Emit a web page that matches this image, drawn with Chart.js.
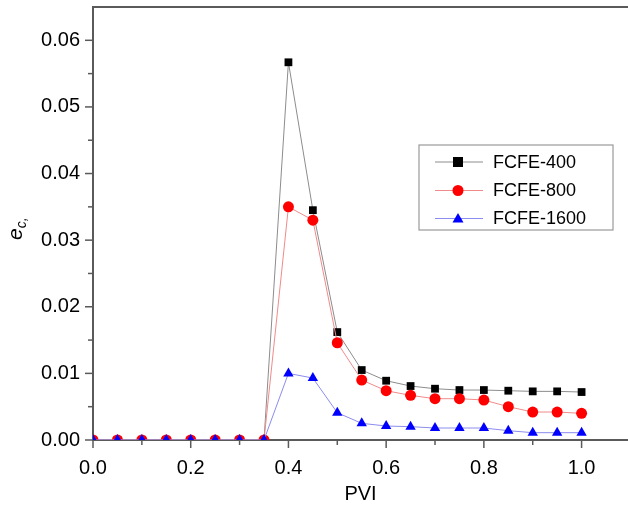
<!DOCTYPE html>
<html>
<head>
<meta charset="utf-8">
<script src="https://cdn.jsdelivr.net/npm/chart.js@4/dist/chart.umd.min.js"></script>
<style>
  html, body { margin: 0; padding: 0; background: #fff; }
  #wrap { width: 628px; height: 508px; position: relative; }
</style>
</head>
<body>
<div id="wrap"><canvas id="myChart"></canvas></div>
<script>
const pvi = [0, 0.05, 0.1, 0.15, 0.2, 0.25, 0.3, 0.35, 0.4, 0.45, 0.5, 0.55, 0.6, 0.65, 0.7, 0.75, 0.8, 0.85, 0.9, 0.95, 1.0];
const fcfe400 = [0, 0, 0, 0, 0, 0, 0, 0, 0.0567, 0.0345, 0.0162, 0.0105, 0.0089, 0.0081, 0.0077, 0.0075, 0.0075, 0.0074, 0.0073, 0.0073, 0.0072];
const fcfe800 = [0, 0, 0, 0, 0, 0, 0, 0, 0.0350, 0.0330, 0.0146, 0.0090, 0.0074, 0.0067, 0.0062, 0.0062, 0.0060, 0.0050, 0.0042, 0.0042, 0.0040];
const fcfe1600 = [0, 0, 0, 0, 0, 0, 0, 0, 0.0100, 0.0093, 0.0041, 0.0025, 0.0021, 0.0020, 0.0018, 0.0018, 0.0018, 0.0014, 0.0011, 0.0011, 0.0011];
const seriesNames = ["FCFE-400", "FCFE-800", "FCFE-1600"];
// tick positions (major every 0.2 / 0.01, minor halfway)
const xTicks = [0, 0.1, 0.2, 0.3, 0.4, 0.5, 0.6, 0.7, 0.8, 0.9, 1.0];
const yTicks = [0, 0.005, 0.01, 0.015, 0.02, 0.025, 0.03, 0.035, 0.04, 0.045, 0.05, 0.055, 0.06];

const font = "'Liberation Sans', Arial, Helvetica, sans-serif";
const axisColor = "#5a5a5a";

function pts(ys) {
    return pvi.map((x, i) => ({ x: x, y: ys[i] }));
}

function isMult(v, step) {
    const q = v / step;
    return Math.abs(q - Math.round(q)) < 1e-6;
}

function marker(ctx, style, x, y, r, color) {
    ctx.fillStyle = color;
    ctx.beginPath();
    if (style === "rect") {
        ctx.rect(x - r, y - r, 2 * r, 2 * r);
    } else if (style === "circle") {
        ctx.arc(x, y, r, 0, Math.PI * 2);
    } else {
        ctx.moveTo(x, y - r * 1.1);
        ctx.lineTo(x + r * 1.1, y + r * 0.8);
        ctx.lineTo(x - r * 1.1, y + r * 0.8);
        ctx.closePath();
    }
    ctx.fill();
}

const decorPlugin = {
    id: "decor",
    afterDraw(chart) {
        const ctx = chart.ctx;
        const area = chart.chartArea;
        const xs = chart.scales.x;
        const ys = chart.scales.y;
        ctx.save();
        ctx.strokeStyle = axisColor;
        ctx.lineWidth = 2;
        // top frame line
        ctx.beginPath();
        ctx.moveTo(area.left - 1, area.top);
        ctx.lineTo(area.right, area.top);
        ctx.stroke();
        // tick marks
        ctx.lineWidth = 1.5;
        xs.ticks.forEach(t => {
            const px = xs.getPixelForValue(t.value);
            const len = isMult(t.value, 0.2) ? 8 : 5;
            ctx.beginPath();
            ctx.moveTo(px, area.bottom);
            ctx.lineTo(px, area.bottom + len);
            ctx.stroke();
        });
        ys.ticks.forEach(t => {
            const py = ys.getPixelForValue(t.value);
            const len = isMult(t.value, 0.01) ? 8 : 5;
            ctx.beginPath();
            ctx.moveTo(area.left, py);
            ctx.lineTo(area.left - len, py);
            ctx.stroke();
        });
        // y axis title: e subscript c,
        ctx.translate(22, 234);
        ctx.rotate(-Math.PI / 2);
        ctx.fillStyle = "#000";
        ctx.textBaseline = "alphabetic";
        ctx.textAlign = "left";
        ctx.font = "italic 21px " + font;
        ctx.fillText("e", -6, 0);
        const ew = ctx.measureText("e").width;
        ctx.font = "italic 14px " + font;
        ctx.fillText("c,", -6 + ew, 4);
        ctx.restore();

        // legend
        ctx.save();
        const bx = 419, by = 145, bw = 194, bh = 85;
        ctx.fillStyle = "#fff";
        ctx.fillRect(bx, by, bw, bh);
        ctx.strokeStyle = "#9a9a9a";
        ctx.lineWidth = 1.2;
        ctx.strokeRect(bx, by, bw, bh);
        const rowsY = [162, 190.5, 218.5];
        chart.data.datasets.forEach((ds, i) => {
            const y = rowsY[i];
            ctx.strokeStyle = ds.borderColor;
            ctx.lineWidth = 1;
            ctx.beginPath();
            ctx.moveTo(435, y);
            ctx.lineTo(483, y);
            ctx.stroke();
            marker(ctx, ds.pointStyle, 458, y, ds.pointStyle === "circle" ? 5.5 : 5, ds.pointBackgroundColor);
            ctx.fillStyle = "#000";
            ctx.font = "18px " + font;
            ctx.textBaseline = "middle";
            ctx.textAlign = "left";
            ctx.fillText(ds.label, 493, y + 1);
        });
        ctx.restore();
    }
};

const ctx = document.getElementById("myChart").getContext("2d");
const myChart = new Chart(ctx, {
    type: "line",
    data: {
        datasets: [{
            label: seriesNames[0],
            data: pts(fcfe400),
            borderColor: "#8c8c8c",
            borderWidth: 1,
            pointStyle: "rect",
            pointRadius: 5.5,
            pointBackgroundColor: "#000000",
            pointBorderWidth: 0,
            order: 2,
        }, {
            label: seriesNames[1],
            data: pts(fcfe800),
            borderColor: "#f08a8a",
            borderWidth: 1,
            pointStyle: "circle",
            pointRadius: 5.5,
            pointBackgroundColor: "#ff0000",
            pointBorderWidth: 0,
            order: 1,
        }, {
            label: seriesNames[2],
            data: pts(fcfe1600),
            borderColor: "#8c8cee",
            borderWidth: 1,
            pointStyle: "triangle",
            pointRadius: 6,
            pointBackgroundColor: "#0000ff",
            pointBorderWidth: 0,
            order: 0,
        }],
    },
    options: {
        responsive: true,
        maintainAspectRatio: false,
        animation: false,
        layout: { autoPadding: false, padding: { top: 7, right: 0, left: 0, bottom: 0 } },
        plugins: {
            legend: { display: false },
            tooltip: { enabled: false },
        },
        elements: { line: { tension: 0 } },
        scales: {
            x: {
                type: "linear",
                min: 0,
                max: 1.095,
                afterBuildTicks: axis => { axis.ticks = xTicks.map(v => ({ value: v })); },
                afterFit: scale => {
                    scale.height = 68;
                    scale.paddingLeft = 0;
                    scale.paddingRight = 0;
                },
                grid: { display: false, drawTicks: false },
                border: { display: true, color: axisColor, width: 2 },
                ticks: {
                    padding: 16,
                    maxRotation: 0,
                    autoSkip: false,
                    color: "#000",
                    font: { family: font, size: 20 },
                    callback: v => isMult(v, 0.2) ? v.toFixed(1) : "",
                },
                title: {
                    display: true,
                    text: "PVI",
                    color: "#000",
                    font: { family: font, size: 20 },
                    padding: { top: 0, bottom: 2 },
                },
            },
            y: {
                min: 0,
                max: 0.065,
                afterBuildTicks: axis => { axis.ticks = yTicks.map(v => ({ value: v })); },
                afterFit: scale => {
                    scale.width = 93;
                    scale.paddingTop = 0;
                    scale.paddingBottom = 0;
                },
                grid: { display: false, drawTicks: false },
                border: { display: true, color: axisColor, width: 2 },
                ticks: {
                    padding: 13,
                    autoSkip: false,
                    color: "#000",
                    font: { family: font, size: 20 },
                    callback: v => isMult(v, 0.01) ? v.toFixed(2) : "",
                },
            },
        },
    },
    plugins: [decorPlugin],
});
</script>
</body>
</html>
